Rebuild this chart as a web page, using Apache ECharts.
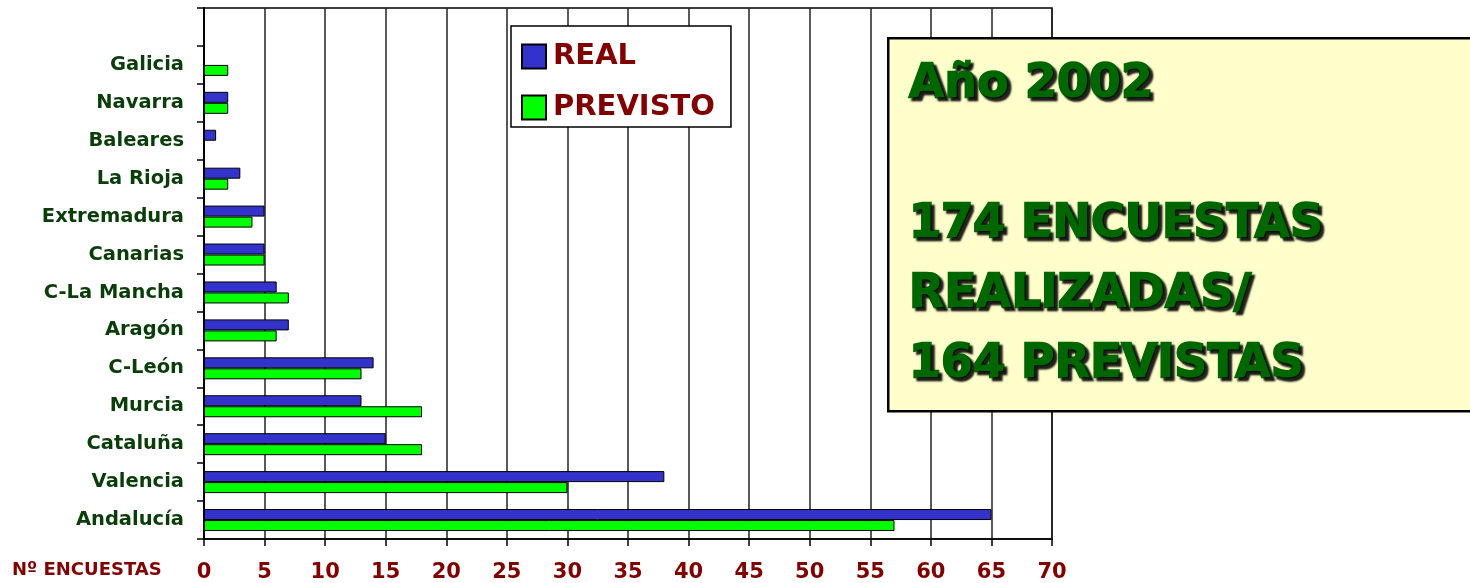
<!DOCTYPE html>
<html>
<head>
<meta charset="utf-8">
<script src="https://cdn.jsdelivr.net/npm/echarts@6/dist/echarts.min.js"></script>
<style>
  html, body { margin: 0; padding: 0; background: #fff; }
  #chart { width: 1470px; height: 583px; }
</style>
</head>
<body>
<div id="chart"></div>
<script>
// regiones, de abajo arriba (la primera franja de arriba va vacía)
var regiones = ['Andalucía', 'Valencia', 'Cataluña', 'Murcia', 'C-León', 'Aragón',
    'C-La Mancha', 'Canarias', 'Extremadura', 'La Rioja', 'Baleares', 'Navarra', 'Galicia', ''];
var real     = [65, 38, 15, 13, 14, 7, 6, 5, 5, 3, 1, 2, 0, null];
var previsto = [57, 30, 18, 18, 13, 6, 7, 5, 4, 2, 0, 2, 2, null];
var ejeX = ['0', '5', '10', '15', '20', '25', '30', '35', '40', '45', '50', '55', '60', '65', '70'];
var titulo = 'Año 2002';
var resumen = ['174 ENCUESTAS', 'REALIZADAS/', '164 PREVISTAS'];

var fuente = '"DejaVu Sans", Verdana, sans-serif';
var rojo = '#800000';
var verdeTxt = '#0b3d0b';

window.onload = function() {
    var chart = echarts.init(document.getElementById('chart'));
    var sombra = {
        fill: '#006600',
        font: 'bold 46px ' + fuente,
        lineHeight: 70,
        stroke: '#006600',
        lineWidth: 2.5,
        textShadowColor: 'rgba(0,0,0,0.85)',
        textShadowOffsetX: 3,
        textShadowOffsetY: 3,
        textShadowBlur: 2
    };
    chart.setOption({
        animation: false,
        grid: {
            left: 204, right: 418, top: 8, bottom: 44,
            show: true, borderColor: '#000', borderWidth: 1.5
        },
        legend: {
            data: ['REAL', 'PREVISTO'],
            orient: 'vertical',
            left: 511, top: 26,
            padding: [16, 16, 5, 10],
            itemGap: 22,
            itemWidth: 24, itemHeight: 24,
            icon: 'rect',
            backgroundColor: '#fff',
            borderColor: '#000', borderWidth: 1.5,
            textStyle: { color: rojo, fontSize: 29, fontWeight: 'bold', fontFamily: fuente, padding: [0, 0, 0, 2] }
        },
        xAxis: {
            type: 'value', min: 0, max: 70, interval: 5,
            axisLine: { show: true, lineStyle: { color: '#000', width: 1.5 } },
            axisTick: { show: true, length: 7, lineStyle: { color: '#000', width: 1.5 } },
            splitLine: { show: true, lineStyle: { color: '#222', width: 1.5 } },
            axisLabel: {
                margin: 23, color: rojo, fontSize: 21, fontWeight: 'bold', fontFamily: fuente,
                formatter: function(v) { return ejeX[v / 5]; }
            }
        },
        yAxis: {
            type: 'category', data: regiones,
            axisLine: { show: true, lineStyle: { color: '#000', width: 2 } },
            axisTick: { show: true, length: 7, lineStyle: { color: '#000', width: 1.5 } },
            axisLabel: { margin: 20, color: verdeTxt, fontSize: 19.5, fontWeight: 'bold', fontFamily: fuente }
        },
        series: [{
            name: 'REAL', type: 'bar', data: real,
            barWidth: 11, barGap: '0%',
            itemStyle: { color: '#3333cc', borderColor: '#000', borderWidth: 1 }
        }, {
            name: 'PREVISTO', type: 'bar', data: previsto,
            barWidth: 11, barGap: '0%',
            itemStyle: { color: '#00ff00', borderColor: '#000', borderWidth: 1 }
        }],
        graphic: [{
            type: 'rect', left: 887, top: 37, z: 10,
            shape: { width: 600, height: 373 },
            style: { fill: '#ffffcc', stroke: '#000', lineWidth: 2.5 }
        }, {
            type: 'text', left: 908, top: 50, z: 11,
            style: echarts.util.extend({ text: titulo }, sombra)
        }, {
            type: 'text', left: 908, top: 190, z: 11,
            style: echarts.util.extend({ text: resumen.join('\n') }, sombra)
        }, {
            type: 'text', left: 12, top: 561, z: 11,
            style: { text: 'Nº ENCUESTAS', fill: rojo, font: 'bold 18px ' + fuente }
        }]
    });
};
</script>
</body>
</html>
